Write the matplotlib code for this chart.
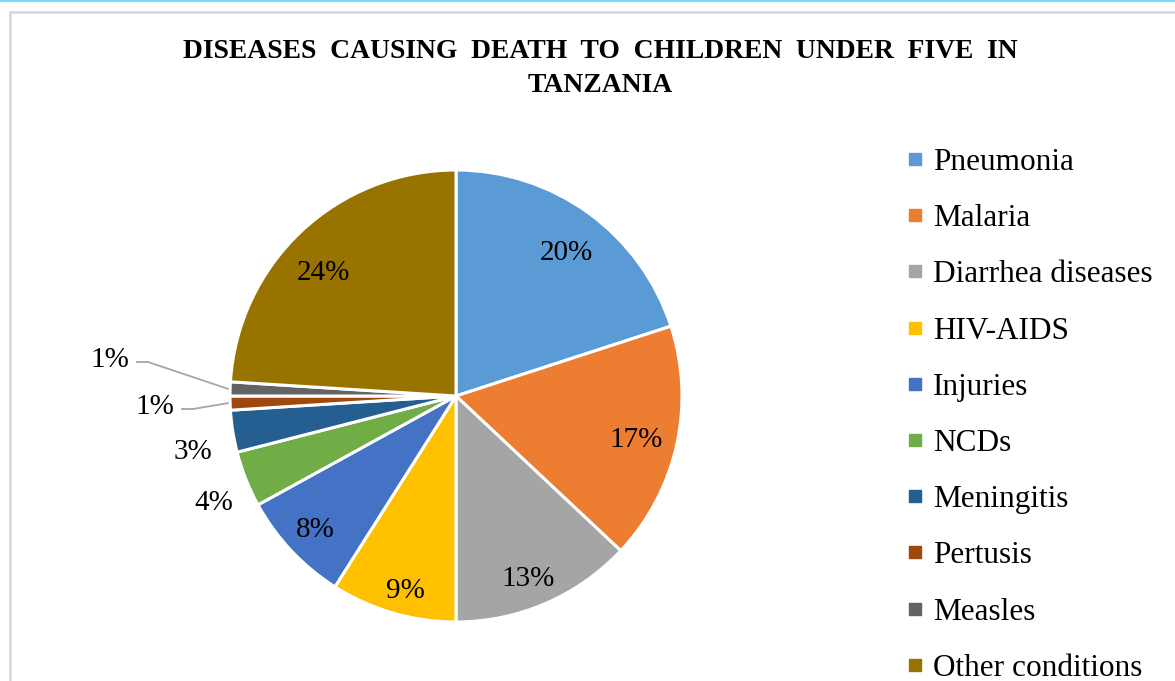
import numpy as np
import matplotlib
matplotlib.use("Agg")
import matplotlib.pyplot as plt
from matplotlib.lines import Line2D
from matplotlib.patches import Rectangle

plt.rcParams['font.family'] = ['Liberation Serif', 'DejaVu Serif']

causes = ['Pneumonia', 'Malaria', 'Diarrhea diseases', 'HIV-AIDS', 'Injuries',
          'NCDs', 'Meningitis', 'Pertusis', 'Measles', 'Other conditions']
shares = [20, 17, 13, 9, 8, 4, 3, 1, 1, 24]
colors = ['#5B9BD5', '#ED7D31', '#A5A5A5', '#FFC000', '#4472C4',
          '#70AD47', '#255E91', '#9E480E', '#636363', '#997300']

W, H = 1175, 681
fig = plt.figure(figsize=(W / 100, H / 100), dpi=100)
ax = fig.add_axes([0, 0, 1, 1])

# chart frame and top rule
ax.add_patch(Rectangle((10, -20), W, H - 12 + 20, fill=False,
                       edgecolor='#d9d9d9', linewidth=2))
ax.plot([0, W], [H - 1, H - 1], color='#80d8f7', linewidth=1.5)

cx, cy, R = 456, H - 396, 226
wedges, _ = ax.pie(shares, colors=colors, startangle=90, counterclock=False,
                   center=(cx, cy), radius=R, frame=True,
                   wedgeprops=dict(edgecolor='white', linewidth=2.2))
ax.set_xlim(0, W)
ax.set_ylim(0, H)
ax.set_aspect('equal')
ax.axis('off')

# label placement per slice: distance (fraction of radius) and angle nudge
label_r = [0.80, 0.82, 0.87, 0.89, 0.86, 1.17, 1.19, None, None, 0.80]
label_da = [-1.5, -1, -1.8, 1.5, 0.5, 2.2, 3, 0, 0, 4]
total = sum(shares)
cum = np.cumsum([0] + shares)
for i, v in enumerate(shares):
    mid = 90 - 360 * (cum[i] + v / 2) / total
    txt = f'{v}%'
    if label_r[i] is not None:
        a = np.deg2rad(mid + label_da[i])
        ax.text(cx + label_r[i] * R * np.cos(a), cy + label_r[i] * R * np.sin(a),
                txt, ha='center', va='center', fontsize=21)
    else:
        a = np.deg2rad(mid)
        px, py = cx + 1.01 * R * np.cos(a), cy + 1.01 * R * np.sin(a)
        if causes[i] == 'Measles':
            tx, ty, kx = cx - 346, cy + 36, cx - 308
        else:
            tx, ty, kx = cx - 301, cy - 11, cx - 263
        ax.plot([tx + 27, kx, px], [ty - 2, ty - 2, py],
                color='#a6a6a6', linewidth=1.3)
        ax.text(tx, ty, txt, ha='center', va='center', fontsize=21)

ax.text(600, H - 51, 'DISEASES  CAUSING  DEATH  TO  CHILDREN  UNDER  FIVE  IN',
        ha='center', va='center', fontsize=19.9, fontweight='bold')
ax.text(600, H - 86, 'TANZANIA', ha='center', va='center',
        fontsize=19.9, fontweight='bold')

handles = [Line2D([], [], marker='s', linestyle='none', markersize=8.5,
                  markerfacecolor=c, markeredgecolor=c) for c in colors]
ax.legend(handles, causes, loc='upper left', bbox_to_anchor=(907 / W, (H - 148) / H),
          bbox_transform=fig.transFigure, frameon=False, fontsize=22.5,
          handlelength=0.5, handletextpad=0.34, labelspacing=0.87,
          borderaxespad=0, borderpad=0)

fig.savefig('out.png', dpi=100)
